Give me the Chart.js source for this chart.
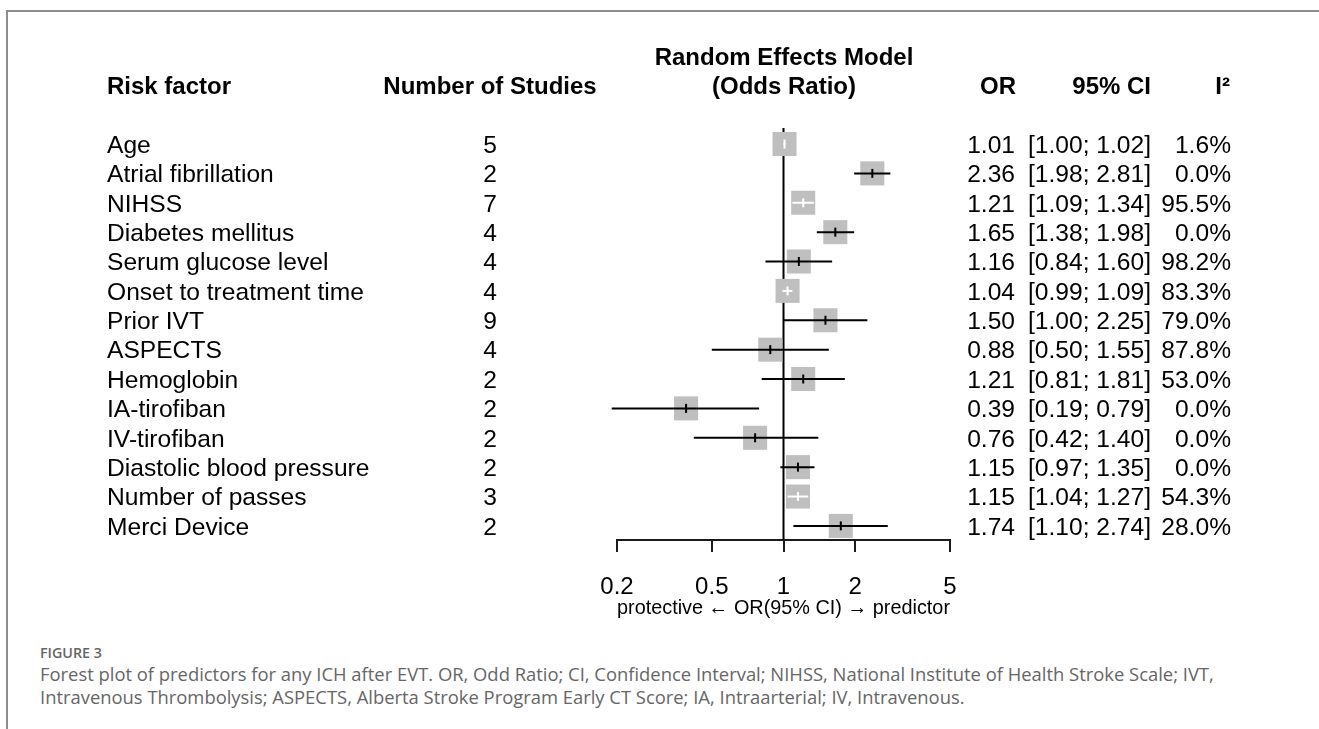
<!DOCTYPE html>
<html>
<head>
<meta charset="utf-8">
<script src="https://cdn.jsdelivr.net/npm/chart.js@4/dist/chart.umd.min.js"></script>
<style>
  html, body { margin: 0; padding: 0; background: #fff; }
  #page { position: relative; width: 1319px; height: 729px; overflow: hidden; }
  #frame { position: absolute; left: 6px; top: 10px; width: 1400px; height: 800px;
           border-left: 2px solid #8c8c8c; border-top: 2px solid #8c8c8c; }
  #plot { position: absolute; left: 0; top: 0; }
  .cap { position: absolute; left: 40px; font-family: "Open Sans", sans-serif; color: #666; }
  #figno { top: 643px; font-size: 14.3px; font-weight: 600; }
  #captxt { top: 662px; font-size: 18.4px; line-height: 23px; white-space: nowrap; }
</style>
</head>
<body>
<div id="page">
  <div id="frame"></div>
  <canvas id="plot" width="1319" height="640"></canvas>
  <div class="cap" id="figno">FIGURE 3</div>
  <div class="cap" id="captxt">Forest plot of predictors for any ICH after EVT. OR, Odd Ratio; CI, Confidence Interval; NIHSS, National Institute of Health Stroke Scale; IVT,<br>Intravenous Thrombolysis; ASPECTS, Alberta Stroke Program Early CT Score; IA, Intraarterial; IV, Intravenous.</div>
</div>
<script>
// forest plot data
const factors = ['Age', 'Atrial fibrillation', 'NIHSS', 'Diabetes mellitus', 'Serum glucose level',
  'Onset to treatment time', 'Prior IVT', 'ASPECTS', 'Hemoglobin', 'IA-tirofiban', 'IV-tirofiban',
  'Diastolic blood pressure', 'Number of passes', 'Merci Device'];
const studies = [5, 2, 7, 4, 4, 4, 9, 4, 2, 2, 2, 2, 3, 2];
const orVals = [1.01, 2.36, 1.21, 1.65, 1.16, 1.04, 1.50, 0.88, 1.21, 0.39, 0.76, 1.15, 1.15, 1.74];
const ciLow = [1.00, 1.98, 1.09, 1.38, 0.84, 0.99, 1.00, 0.50, 0.81, 0.19, 0.42, 0.97, 1.04, 1.10];
const ciHigh = [1.02, 2.81, 1.34, 1.98, 1.60, 1.09, 2.25, 1.55, 1.81, 0.79, 1.40, 1.35, 1.27, 2.74];
const i2Vals = [1.6, 0.0, 95.5, 0.0, 98.2, 83.3, 79.0, 87.8, 53.0, 0.0, 0.0, 0.0, 54.3, 28.0];
const tickVals = [0.2, 0.5, 1, 2, 5];

const FONT = 'Liberation Sans, Arial, sans-serif';
const BOX = 17; // rect point radius -> ~24px square

// CI drawn white when it fits inside the square (like R meta)
function ciColor(chart, i) {
  const sx = chart.scales.x;
  if (!sx) return '#000';
  const p = sx.getPixelForValue(orVals[i]);
  const l = sx.getPixelForValue(ciLow[i]);
  const h = sx.getPixelForValue(ciHigh[i]);
  const half = BOX * Math.SQRT1_2;
  return (p - l <= half && h - p <= half) ? '#fff' : '#000';
}

const datasets = [];

// null line at OR = 1
datasets.push({
  type: 'line',
  data: [{ x: 1, y: -0.55 }, { x: 1, y: 13.48 }],
  borderColor: '#000', borderWidth: 2, pointRadius: 0, order: 5
});

// squares
datasets.push({
  data: orVals.map((v, i) => ({ x: v, y: i })),
  pointStyle: 'rect', pointRadius: BOX, pointHoverRadius: BOX,
  backgroundColor: '#bfbfbf', borderWidth: 0, order: 4
});

// CI lines, one per row
factors.forEach((f, i) => {
  datasets.push({
    type: 'line',
    data: [{ x: ciLow[i], y: i }, { x: ciHigh[i], y: i }],
    borderColor: ctx => ciColor(ctx.chart, i),
    borderWidth: 2, pointRadius: 0, clip: false, order: 2
  });
});

// estimate marks
datasets.push({
  data: orVals.map((v, i) => ({ x: v, y: i })),
  pointStyle: 'line', rotation: 90, pointRadius: 4.5, pointHoverRadius: 4.5,
  borderWidth: 2, pointBorderWidth: 2,
  borderColor: ctx => ciColor(ctx.chart, ctx.dataIndex),
  order: 1
});

const textPlugin = {
  id: 'forestText',
  afterDraw(chart) {
    const ctx = chart.ctx;
    const sy = chart.scales.y;
    ctx.save();
    ctx.fillStyle = '#000';
    ctx.textBaseline = 'middle';

    // headers
    ctx.font = 'bold 24px ' + FONT;
    ctx.textAlign = 'left';
    ctx.fillText('Risk factor', 107, 87);
    ctx.textAlign = 'center';
    ctx.fillText('Number of Studies', 490, 87);
    ctx.fillText('Random Effects Model', 784, 58);
    ctx.fillText('(Odds Ratio)', 784, 87);
    ctx.textAlign = 'right';
    ctx.fillText('OR', 1016, 87);
    ctx.fillText('95% CI', 1151, 87);
    ctx.fillText('I\u00b2', 1230, 87);

    // rows
    ctx.font = '24.6px ' + FONT;
    factors.forEach((f, i) => {
      const y = sy.getPixelForValue(i) + 2;
      ctx.textAlign = 'left';
      ctx.fillText(f, 107, y);
      ctx.textAlign = 'right';
      ctx.fillText(String(studies[i]), 497, y);
      ctx.fillText(orVals[i].toFixed(2), 1015, y);
      ctx.fillText('[' + ciLow[i].toFixed(2) + '; ' + ciHigh[i].toFixed(2) + ']', 1151, y);
      ctx.fillText(i2Vals[i].toFixed(1) + '%', 1231, y);
    });
    ctx.restore();
  }
};

new Chart(document.getElementById('plot'), {
  type: 'scatter',
  data: { datasets: datasets },
  plugins: [textPlugin],
  options: {
    responsive: false,
    animation: false,
    events: [],
    layout: { padding: { left: 617, right: 369, top: 128, bottom: 18 } },
    plugins: { legend: { display: false }, tooltip: { enabled: false } },
    scales: {
      x: {
        type: 'logarithmic',
        position: 'bottom',
        min: 0.2, max: 5,
        afterBuildTicks: scale => { scale.ticks = tickVals.map(v => ({ value: v })); },
        afterFit: scale => { scale.height = 82; scale.paddingLeft = 0; scale.paddingRight = 0; },
        grid: { drawOnChartArea: false, drawTicks: true, tickLength: 12, color: '#1a1a1a', lineWidth: 2 },
        border: { display: true, color: '#1a1a1a', width: 2 },
        ticks: {
          color: '#000', padding: 21, maxRotation: 0, autoSkip: false,
          font: { family: FONT, size: 24 },
          callback: v => String(v)
        },
        title: {
          display: true,
          text: 'protective \u2190 OR(95% CI) \u2192 predictor',
          color: '#000',
          font: { family: FONT, size: 21 },
          padding: { top: 0, bottom: 1 }
        }
      },
      y: {
        type: 'linear', reverse: true, min: -0.545, max: 13.48, display: false
      }
    }
  }
});
</script>
</body>
</html>
